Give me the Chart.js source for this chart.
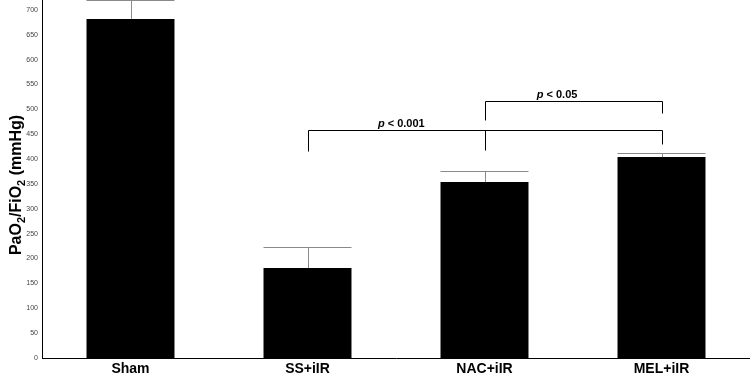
<!DOCTYPE html>
<html>
<head>
<meta charset="utf-8">
<script src="https://cdn.jsdelivr.net/npm/chart.js@4"></script>
<style>
  body { margin: 0; background: #fff; }
  #wrap { width: 750px; height: 374px; }
</style>
</head>
<body>
<div id="wrap"><canvas id="chart" width="750" height="374"></canvas></div>
<script>
// Data
const categories = ['Sham', 'SS+iIR', 'NAC+iIR', 'MEL+iIR'];
const means = [682, 181, 354, 404];
const errors = [38, 43, 23, 8];
const yMax = 720;
const yStep = 50;

// Significance brackets: from/to category index, bar height, leg ends, label + label position (category units)
const brackets = [
    { from: 1, to: 3, mid: 2, level: 458, legs: [417, 419, 431], label: '< 0.001', labelAt: 1.53 },
    { from: 2, to: 3, mid: null, level: 517, legs: [479, null, 492], label: '< 0.05', labelAt: 2.41 }
];

const FONT = '"Liberation Sans", Arial, sans-serif';

// Upper error whiskers
const errorBars = {
    id: 'errorBars',
    afterDatasetsDraw(chart) {
        const c = chart.ctx;
        const meta = chart.getDatasetMeta(0);
        const y = chart.scales.y;
        c.save();
        c.strokeStyle = '#8a8a8a';
        c.lineWidth = 1;
        meta.data.forEach((bar, i) => {
            const x = Math.round(bar.x) + 0.5;
            const top = Math.round(y.getPixelForValue(means[i] + errors[i])) + 0.5;
            const half = bar.width / 2;
            c.beginPath();
            c.moveTo(x, bar.y);
            c.lineTo(x, top);
            c.moveTo(bar.x - half, top);
            c.lineTo(bar.x + half, top);
            c.stroke();
        });
        c.restore();
    }
};

// Brackets with p values
const sigBrackets = {
    id: 'sigBrackets',
    afterDatasetsDraw(chart) {
        const c = chart.ctx;
        const x = chart.scales.x;
        const y = chart.scales.y;
        const px = v => Math.round(x.getPixelForValue(v)) + 0.5;
        const py = v => Math.round(y.getPixelForValue(v)) + 0.5;
        c.save();
        c.strokeStyle = '#000';
        c.lineWidth = 1;
        brackets.forEach(b => {
            const yl = py(b.level);
            c.beginPath();
            c.moveTo(px(b.from), py(b.legs[0]));
            c.lineTo(px(b.from), yl);
            c.lineTo(px(b.to), yl);
            c.lineTo(px(b.to), py(b.legs[2]));
            if (b.mid !== null) {
                c.moveTo(px(b.mid), yl);
                c.lineTo(px(b.mid), py(b.legs[1]));
            }
            c.stroke();

            // label: italic p + bold rest
            const p = 'p ';
            c.fillStyle = '#000';
            c.textBaseline = 'alphabetic';
            c.font = 'italic bold 11px ' + FONT;
            const w1 = c.measureText(p).width;
            c.font = 'bold 11px ' + FONT;
            const w2 = c.measureText(b.label).width;
            const start = x.getPixelForValue(b.labelAt) - (w1 + w2) / 2;
            const base = yl - 4;
            c.font = 'italic bold 11px ' + FONT;
            c.fillText(p, start, base);
            c.font = 'bold 11px ' + FONT;
            c.fillText(b.label, start + w1, base);
        });
        c.restore();
    }
};

// Y axis title with subscripts
const yTitle = {
    id: 'yTitle',
    afterDraw(chart) {
        const c = chart.ctx;
        const parts = [
            ['PaO', false], ['2', true], ['/FiO', false], ['2', true], [' (mmHg)', false]
        ];
        const big = 'bold 16px ' + FONT;
        const small = 'bold 11px ' + FONT;
        let total = 0;
        parts.forEach(([t, sub]) => { c.font = sub ? small : big; total += c.measureText(t).width; });
        c.save();
        c.translate(21, 185);
        c.rotate(-Math.PI / 2);
        c.fillStyle = '#000';
        c.textBaseline = 'alphabetic';
        let xx = -total / 2;
        parts.forEach(([t, sub]) => {
            c.font = sub ? small : big;
            c.fillText(t, xx, sub ? 4 : 0);
            xx += c.measureText(t).width;
        });
        c.restore();
    }
};

new Chart(document.getElementById('chart'), {
    type: 'bar',
    data: {
        labels: categories,
        datasets: [{
            data: means,
            backgroundColor: '#000',
            borderWidth: 0,
            barPercentage: 0.497,
            categoryPercentage: 1
        }]
    },
    options: {
        responsive: false,
        animation: false,
        devicePixelRatio: 1,
        layout: { padding: 0 },
        plugins: {
            legend: { display: false },
            tooltip: { enabled: false }
        },
        scales: {
            x: {
                grid: { display: false, drawTicks: false },
                border: { display: true, color: '#000', width: 1 },
                ticks: {
                    color: '#000',
                    padding: 3,
                    font: { family: FONT, size: 14, weight: 'bold' }
                },
                afterFit(s) { s.height = 16; s.paddingLeft = 0; s.paddingRight = 0; }
            },
            y: {
                min: 0,
                max: yMax,
                grid: { display: false, drawTicks: false },
                border: { display: true, color: '#000', width: 1 },
                ticks: {
                    stepSize: yStep,
                    includeBounds: false,
                    color: '#444',
                    padding: 4,
                    font: { family: FONT, size: 7 }
                },
                afterFit(s) { s.width = 42; s.paddingTop = 0; s.paddingBottom = 0; }
            }
        }
    },
    plugins: [errorBars, sigBrackets, yTitle]
});
</script>
</body>
</html>
